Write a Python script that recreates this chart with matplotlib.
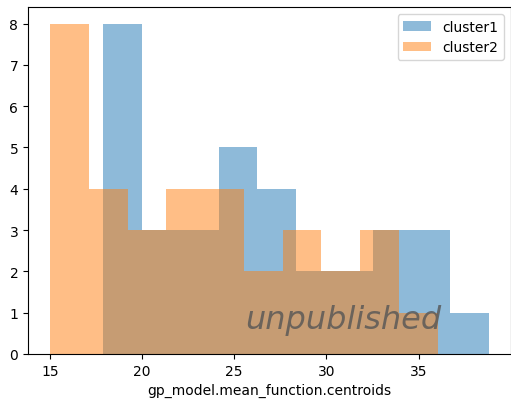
import numpy as np
import matplotlib
matplotlib.use("Agg")
import matplotlib.pyplot as plt

# bin edges and counts
cluster1_edges = np.linspace(17.9, 38.8, 11)
cluster1_counts = [8, 3, 3, 5, 4, 2, 2, 3, 3, 1]
cluster2_edges = np.linspace(15.0, 36.05, 11)
cluster2_counts = [8, 4, 3, 4, 4, 2, 3, 2, 3, 1]

fig = plt.figure(figsize=(5.11, 4.02), dpi=100)
ax = fig.add_axes([28 / 511, 1 - 355 / 402, (510.5 - 28) / 511, (355 - 8) / 402])

ax.hist(cluster1_edges[:-1], bins=cluster1_edges, weights=cluster1_counts,
        alpha=0.5, label="cluster1")
ax.hist(cluster2_edges[:-1], bins=cluster2_edges, weights=cluster2_counts,
        alpha=0.5, label="cluster2")

ax.set_xlabel("gp_model.mean_function.centroids")
ax.legend(loc="upper right")

# watermark
ax.text(0.653, 0.10, "unpublished", transform=ax.transAxes,
        ha="center", va="center", fontsize=23, style="italic",
        family=["DejaVu Sans"],
        color="#555555", alpha=0.8)

fig.savefig("out.png", dpi=100)
